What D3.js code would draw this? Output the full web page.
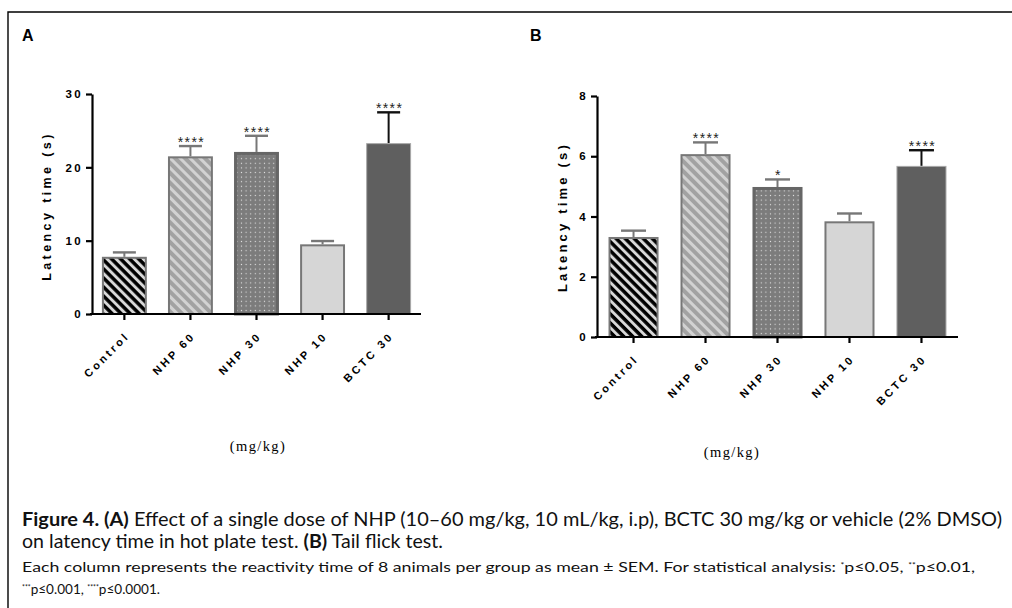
<!DOCTYPE html>
<html>
<head>
<meta charset="utf-8">
<script src="https://cdn.jsdelivr.net/npm/d3@7"></script>
<style>
  html, body { margin: 0; padding: 0; background: #fff; }
  svg { display: block; }
</style>
</head>
<body>
<svg id="fig" width="1012" height="608"></svg>
<script>
const categories = ["Control", "NHP 60", "NHP 30", "NHP 10", "BCTC 30"];

// panel A: hot plate test
const meanA = [7.8, 21.5, 22.1, 9.5, 23.3];
const semA = [0.6, 1.4, 2.2, 0.45, 4.2];
const starsA = ["", "****", "****", "", "****"];
const ticksA = [0, 10, 20, 30];

// panel B: tail flick test
const meanB = [3.32, 6.07, 4.98, 3.84, 5.68];
const semB = [0.21, 0.39, 0.25, 0.26, 0.52];
const starsB = ["", "****", "*", "", "****"];
const ticksB = [0, 2, 4, 6, 8];

const svg = d3.select('#fig');

// frame
svg.append('path')
    .attr('d', 'M1012,12H8V608')
    .attr('fill', 'none')
    .attr('stroke', '#000')
    .attr('stroke-width', 1.4);

// fill patterns
const defs = svg.append('defs');

function stripes(id, bg, fg, size, w) {
    const p = defs.append('pattern')
        .attr('id', id)
        .attr('patternUnits', 'userSpaceOnUse')
        .attr('width', size).attr('height', size)
        .attr('patternTransform', 'rotate(-45)');
    p.append('rect').attr('width', size).attr('height', size).attr('fill', bg);
    p.append('rect').attr('width', w).attr('height', size).attr('fill', fg);
}
stripes('stripeBlack', '#000', '#d8d8d8', 6.4, 2.9);
stripes('stripeGray', '#a2a2a2', '#d2d2d2', 7, 3);

const dots = defs.append('pattern')
    .attr('id', 'dots')
    .attr('patternUnits', 'userSpaceOnUse')
    .attr('width', 4.6).attr('height', 4.6);
dots.append('rect').attr('width', 4.6).attr('height', 4.6).attr('fill', '#7c7c7c');
dots.append('circle').attr('cx', 2.3).attr('cy', 2.3).attr('r', 0.65).attr('fill', '#e0e0e0');

const barStyle = [
    {fill: 'url(#stripeBlack)', stroke: '#777', sw: 2, err: '#777'},
    {fill: 'url(#stripeGray)', stroke: '#777', sw: 2, err: '#777'},
    {fill: 'url(#dots)', stroke: '#666', sw: 3, err: '#777'},
    {fill: '#d6d6d6', stroke: '#777', sw: 2, err: '#777'},
    {fill: '#5f5f5f', stroke: '#a8a8a8', sw: 1, err: '#111'}
];

const sans = 'Liberation Sans, Arial, sans-serif';

function panel(opt) {
    const g = svg.append('g');
    const x = d3.scaleBand()
        .domain(categories)
        .range([opt.x0, opt.x1])
        .paddingInner(opt.padIn)
        .paddingOuter(opt.padOut);
    const y = d3.scaleLinear().domain(opt.domain).range([opt.y0, opt.y1]);

    const rows = categories.map((c, i) => ({c, m: opt.mean[i], s: opt.sem[i], star: opt.stars[i], st: barStyle[i]}));

    // error bars (upper half only)
    const eb = g.selectAll('.err').data(rows).enter().append('g');
    eb.append('line')
        .attr('x1', d => x(d.c) + x.bandwidth() / 2)
        .attr('x2', d => x(d.c) + x.bandwidth() / 2)
        .attr('y1', d => y(d.m))
        .attr('y2', d => y(d.m + d.s))
        .attr('stroke', d => d.st.err)
        .attr('stroke-width', 2);
    eb.append('line')
        .attr('x1', d => x(d.c) + x.bandwidth() / 2 - opt.cap / 2)
        .attr('x2', d => x(d.c) + x.bandwidth() / 2 + opt.cap / 2)
        .attr('y1', d => y(d.m + d.s))
        .attr('y2', d => y(d.m + d.s))
        .attr('stroke', d => d.st.err)
        .attr('stroke-width', 2.4);

    // bars
    g.selectAll('.bar').data(rows).enter().append('rect')
        .attr('x', d => x(d.c) + d.st.sw / 2)
        .attr('width', d => x.bandwidth() - d.st.sw)
        .attr('y', d => y(d.m) + d.st.sw / 2)
        .attr('height', d => y(0) - y(d.m) - d.st.sw / 2)
        .attr('fill', d => d.st.fill)
        .attr('stroke', d => d.st.stroke)
        .attr('stroke-width', d => d.st.sw);

    // significance stars
    g.selectAll('.star').data(rows).enter().append('text')
        .attr('x', d => x(d.c) + x.bandwidth() / 2 + 1)
        .attr('y', d => y(d.m + d.s) + 1)
        .attr('text-anchor', 'middle')
        .style('font-family', sans)
        .style('font-size', '14px')
        .style('letter-spacing', '1.4px')
        .style('fill', '#222')
        .text(d => d.star);

    // y axis
    const ya = g.append('g')
        .attr('transform', `translate(${opt.x0},0)`)
        .call(d3.axisLeft(y).tickValues(opt.ticks).tickSize(6).tickSizeOuter(0).tickPadding(5));
    ya.select('.domain').attr('stroke-width', 2.2);
    ya.selectAll('.tick line').attr('stroke-width', 2.2);
    ya.selectAll('.tick text')
        .style('font-family', sans)
        .style('font-weight', 'bold')
        .style('font-size', '11.5px')
        .style('letter-spacing', '2.4px')
        .attr('dx', '2px')
        .attr('fill', '#000');

    // x axis
    const xa = g.append('g')
        .attr('transform', `translate(0,${opt.y0})`)
        .call(d3.axisBottom(x).tickSize(6).tickSizeOuter(0));
    xa.select('.domain').attr('stroke-width', 2.2).attr('d', `M${opt.x0 - 2},0H${opt.x1}`);
    xa.selectAll('.tick line').attr('stroke-width', 2.2);
    xa.selectAll('.tick text')
        .attr('text-anchor', 'end')
        .attr('x', 0).attr('y', 0).attr('dy', '0.35em')
        .attr('transform', 'translate(3,20) rotate(-45)')
        .style('font-family', sans)
        .style('font-weight', 'bold')
        .style('font-size', '11px')
        .style('letter-spacing', '2.8px')
        .attr('fill', '#000');

    // y title
    g.append('text')
        .attr('transform', `translate(${opt.titleX},${opt.titleY}) rotate(-90)`)
        .attr('text-anchor', 'middle')
        .style('font-family', sans)
        .style('font-weight', 'bold')
        .style('font-size', opt.titleSize)
        .style('letter-spacing', opt.titleSpacing)
        .text('Latency time (s)');

    // unit
    g.append('text')
        .attr('x', opt.unitX).attr('y', opt.unitY)
        .attr('text-anchor', 'middle')
        .style('font-family', 'Liberation Serif, Times New Roman, serif')
        .style('font-size', '14.5px')
        .style('letter-spacing', '1.4px')
        .text('(mg/kg)');

    // panel letter
    svg.append('text')
        .attr('x', opt.letterX).attr('y', 41)
        .style('font-family', sans)
        .style('font-weight', 'bold')
        .style('font-size', '16px')
        .text(opt.letter);
}

panel({
    letter: 'A', letterX: 22,
    mean: meanA, sem: semA, stars: starsA, ticks: ticksA, domain: [0, 30],
    x0: 92, x1: 421, padIn: 0.32, padOut: 0.15, y0: 314, y1: 94, cap: 23,
    titleX: 51, titleY: 206, titleSize: '12.5px', titleSpacing: '3.4px',
    unitX: 258, unitY: 451
});

panel({
    letter: 'B', letterX: 530,
    mean: meanB, sem: semB, stars: starsB, ticks: ticksB, domain: [0, 8],
    x0: 597, x1: 958, padIn: 0.305, padOut: 0.16, y0: 337, y1: 96, cap: 25,
    titleX: 567, titleY: 217, titleSize: '13px', titleSpacing: '3.2px',
    unitX: 732, unitY: 457
});

// caption
const cap = svg.append('g').style('font-family', 'Lato, Noto Sans, sans-serif').style('fill', '#111');

function line(y, size, len, parts) {
    const t = cap.append('text')
        .attr('x', 22).attr('y', y)
        .style('font-size', size + 'px')
        .attr('textLength', len)
        .attr('lengthAdjust', 'spacingAndGlyphs');
    parts.forEach(p => {
        const s = t.append('tspan').text(p.t);
        if (p.b) s.style('font-weight', 'bold');
        if (p.sup) s.attr('dy', -size * 0.3).style('font-size', (size * 0.5) + 'px');
        if (p.back) s.attr('dy', size * 0.3);
    });
}

line(526, 19, 980, [
    {t: 'Figure 4. (A)', b: true},
    {t: ' Effect of a single dose of NHP (10–60 mg/kg, 10 mL/kg, i.p), BCTC 30 mg/kg or vehicle (2% DMSO)'}
]);
line(548, 19, 421, [
    {t: 'on latency time in hot plate test. '},
    {t: '(B)', b: true},
    {t: ' Tail flick test.'}
]);
line(572, 14, 953, [
    {t: 'Each column represents the reactivity time of 8 animals per group as mean ± SEM. For statistical analysis: '},
    {t: '*', sup: true}, {t: 'p≤0.05, ', back: true},
    {t: '**', sup: true}, {t: 'p≤0.01,', back: true}
]);
line(594, 14, 138, [
    {t: '***', sup: true}, {t: 'p≤0.001, ', back: true},
    {t: '****', sup: true}, {t: 'p≤0.0001.', back: true}
]);
</script>
</body>
</html>
